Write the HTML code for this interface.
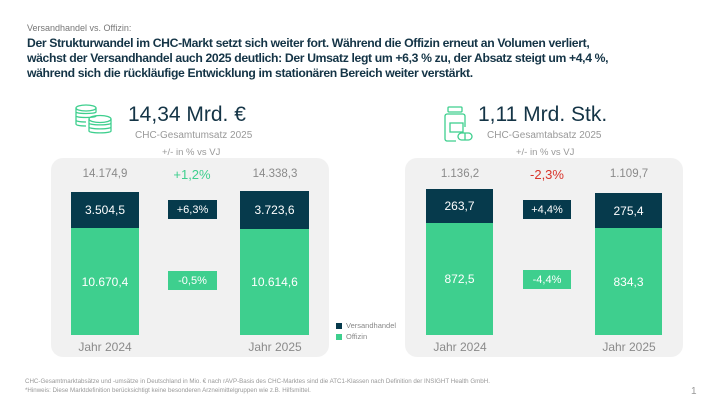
<!DOCTYPE html>
<html><head><meta charset="utf-8"><style>
*{margin:0;padding:0;box-sizing:border-box}
body{width:720px;height:405px;background:#fff;font-family:"Liberation Sans",sans-serif;position:relative;overflow:hidden}
.a{position:absolute;white-space:nowrap}
.panel{position:absolute;background:#f1f1f1;border-radius:12px;top:158px;height:199px;width:278px}
.dk{position:absolute;background:#063a4c}
.gr{position:absolute;background:#3ecf8e}
.v{color:#fff;font-size:12px;text-align:center;display:flex;align-items:center;justify-content:center}
.tl{position:absolute;font-size:11.5px;color:#8a8a8a;text-align:center;width:90px}
.yr{position:absolute;font-size:12px;color:#8a8a8a;text-align:center;width:90px;top:340px}
</style></head><body>
<div class="a" style="left:27px;top:23px;font-size:9px;color:#777">Versandhandel vs. Offizin:</div>
<div class="a" style="left:27px;top:36px;font-size:12.2px;line-height:15px;color:#143446;font-weight:bold;letter-spacing:-0.35px">Der Strukturwandel im CHC-Markt setzt sich weiter fort. Während die Offizin erneut an Volumen verliert,<br>wächst der Versandhandel auch 2025 deutlich: Der Umsatz legt um +6,3 % zu, der Absatz steigt um +4,4 %,<br>während sich die rückläufige Entwicklung im stationären Bereich weiter verstärkt.</div>

<svg class="a" style="left:74px;top:104px" width="42" height="34" viewBox="0 0 42 34" fill="none" stroke="#3ecf8e" stroke-width="1.3">
<ellipse cx="12" cy="4" rx="10" ry="3"/><path d="M2 4v4c0 2 20 2 20 0V4M2 8v4c0 2 20 2 20 0M2 12v4c0 2 10 2 10 2M2 16v4c0 2 10 2 10 2"/>
<ellipse cx="26" cy="15" rx="11" ry="3.5"/><path d="M15 15v4c0 2.5 22 2.5 22 0v-4M15 19v4c0 2.5 22 2.5 22 0v-4M15 23v4c0 2.5 22 2.5 22 0v-4"/>
</svg>
<div class="a" style="left:128px;top:103px;font-size:21px;color:#143446">14,34 Mrd. €</div>
<div class="a" style="left:135px;top:130px;font-size:10px;color:#999">CHC-Gesamtumsatz 2025</div>
<div class="a" style="left:162px;top:147px;font-size:9.5px;color:#999">+/- in % vs VJ</div>

<svg class="a" style="left:444px;top:106px" width="30" height="38" viewBox="0 0 30 38" fill="none" stroke="#3ecf8e" stroke-width="1.3">
<rect x="4" y="1" width="14" height="5" rx="1"/><path d="M3 8h16c1 0 2 1 2 2v11M3 8c-1 0-2 1-2 2v23c0 1 1 2 2 2h9"/><rect x="6" y="17" width="13" height="9"/><rect x="14" y="27" width="14" height="7" rx="3.5"/><path d="M21 27v7"/>
</svg>
<div class="a" style="left:478px;top:103px;font-size:21px;color:#143446">1,11 Mrd. Stk.</div>
<div class="a" style="left:487px;top:130px;font-size:10px;color:#999">CHC-Gesamtabsatz 2025</div>
<div class="a" style="left:516px;top:147px;font-size:9.5px;color:#999">+/- in % vs VJ</div>

<div class="panel" style="left:51px"></div>
<div class="panel" style="left:405px"></div>

<div class="tl" style="left:60px;top:168px">14.174,9</div>
<div class="tl" style="left:147px;top:167px;color:#3ecf8e;font-size:13px">+1,2%</div>
<div class="tl" style="left:230px;top:168px">14.338,3</div>
<div class="dk v" style="left:71px;top:192px;width:68px;height:36px">3.504,5</div>
<div class="gr v" style="left:71px;top:228px;width:68px;height:107px">10.670,4</div>
<div class="dk v" style="left:240px;top:191px;width:69px;height:38px">3.723,6</div>
<div class="gr v" style="left:240px;top:229px;width:69px;height:106px">10.614,6</div>
<div class="dk v" style="left:168px;top:200px;width:49px;height:19px;font-size:11px">+6,3%</div>
<div class="gr v" style="left:168px;top:271px;width:49px;height:19px;font-size:11px">-0,5%</div>
<div class="yr" style="left:60px">Jahr 2024</div>
<div class="yr" style="left:230px">Jahr 2025</div>

<div class="a" style="left:336px;top:323px;width:6px;height:6px;background:#063a4c"></div>
<div class="a" style="left:346px;top:321px;font-size:7.5px;color:#888">Versandhandel</div>
<div class="a" style="left:336px;top:334px;width:6px;height:6px;background:#3ecf8e"></div>
<div class="a" style="left:346px;top:332px;font-size:7.5px;color:#888">Offizin</div>

<div class="tl" style="left:415px;top:168px">1.136,2</div>
<div class="tl" style="left:502px;top:167px;color:#d9342b;font-size:13px">-2,3%</div>
<div class="tl" style="left:584px;top:168px">1.109,7</div>
<div class="dk v" style="left:426px;top:189px;width:67px;height:34px">263,7</div>
<div class="gr v" style="left:426px;top:223px;width:67px;height:112px">872,5</div>
<div class="dk v" style="left:595px;top:193px;width:67px;height:35px">275,4</div>
<div class="gr v" style="left:595px;top:228px;width:67px;height:107px">834,3</div>
<div class="dk v" style="left:523px;top:200px;width:48px;height:19px;font-size:11px">+4,4%</div>
<div class="gr v" style="left:523px;top:270px;width:48px;height:19px;font-size:11px">-4,4%</div>
<div class="yr" style="left:415px">Jahr 2024</div>
<div class="yr" style="left:584px">Jahr 2025</div>

<div class="a" style="left:25px;top:378px;font-size:6.2px;color:#999">CHC-Gesamtmarktabsätze und -umsätze in Deutschland in Mio. € nach rAVP-Basis des CHC-Marktes sind die ATC1-Klassen nach Definition der INSIGHT Health GmbH.</div>
<div class="a" style="left:25px;top:387px;font-size:6.2px;color:#999">*Hinweis: Diese Marktdefinition berücksichtigt keine besonderen Arzneimittelgruppen wie z.B. Hilfsmittel.</div>
<div class="a" style="left:691px;top:386px;font-size:10px;color:#999">1</div>
</body></html>
